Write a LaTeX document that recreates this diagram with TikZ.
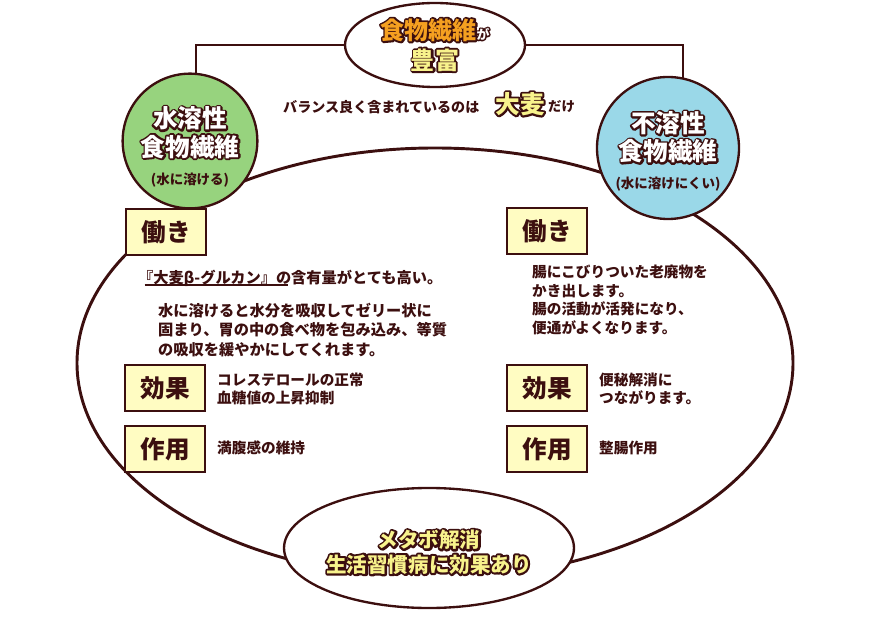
\documentclass[tikz,border=0pt]{standalone}
\usepackage{fontspec}
\setmainfont{Noto Sans CJK JP}
\usetikzlibrary{shapes.geometric}

\definecolor{ink}{HTML}{3C0F0F}
\definecolor{boxfill}{HTML}{FFFCC2}
\definecolor{solgreen}{HTML}{97D37E}
\definecolor{insolblue}{HTML}{9AD8E8}
\definecolor{orangeface}{HTML}{F5A020}
\definecolor{yellowface}{HTML}{F8F38C}

% text with a coloured rim: [rim width in bp]{rim}{face}{text}
\newcommand\edged[4][3.2]{%
  \rlap{\color{#2}\special{pdf:literal direct 1 Tr #1 w 1 j}#4\special{pdf:literal direct 0 Tr}}%
  {\color{#3}#4}}

\tikzset{
  oval/.style={ellipse,draw=ink,line width=2pt,fill=white,inner sep=0pt},
  fiber/.style={circle,draw=ink,line width=2pt,inner sep=0pt,minimum size=#1,
    align=center,font=\fontsize{21}{24}\selectfont\bfseries},
  tag/.style={draw=ink,line width=2.2pt,fill=boxfill,minimum width=2.4cm,
    minimum height=1.38cm,inner sep=0pt,text=ink,font=\fontsize{21}{21}\selectfont\bfseries},
  body/.style={anchor=west,inner sep=0pt,align=left,text=ink,
    font=\fontsize{13}{17}\selectfont\bfseries},
  link/.style={draw=ink,line width=1.6pt},
}

\begin{document}
\begin{tikzpicture}[x=0.03cm,y=-0.03cm]
\useasboundingbox (0,0) rectangle (870,627);

% big cycle
\node[oval,line width=2.5pt,fill=none,minimum width=21.48cm,minimum height=12.9cm] (ring) at (435,363) {};

% top
\node[oval,minimum width=5.4cm,minimum height=2.52cm,align=center,
  font=\fontsize{20.5}{25.5}\selectfont\bfseries] (rich) at (435,45)
  {\edged{ink}{orangeface}{食物繊維}\edged[2.4]{ink}{white}{\fontsize{11}{11}\selectfont が}\\
   \edged{ink}{yellowface}{豊富}};

\draw[link] (rich.west) -| (196,75);
\draw[link] (rich.east) -| (683,80);

\node[fiber=4.02cm,fill=solgreen] (sol) at (190,141)
  {\rule{0pt}{28pt}\edged{ink}{white}{水溶性}\\
   \edged{ink}{white}{食物繊維}\\
   {\color{ink}\fontsize{11.5}{11.5}\selectfont (水に溶ける)}};
\node[fiber=4.26cm,fill=insolblue] (insol) at (668,148)
  {\rule{0pt}{24pt}\edged{ink}{white}{不溶性}\\
   \edged{ink}{white}{食物繊維}\\
   {\color{ink}\fontsize{11.5}{11.5}\selectfont (水に溶けにくい)}};

\node[body,font=\fontsize{12}{12}\selectfont\bfseries] (balance) at (283,107) {バランス良く含まれているのは};
\node[inner sep=0pt,font=\fontsize{21}{21}\selectfont\bfseries] (barley) at (520,104)
  {\edged[3.4]{ink}{yellowface}{大麦}};
\node[body,font=\fontsize{11.5}{11.5}\selectfont\bfseries] (only) at (548,107) {だけ};

% left side
\node[tag] (workL) at (166,232) {働き};
\node[body] (betaL) at (138,278) {『大麦β-グルカン』の含有量がとても高い。};
\draw[ink,line width=1.5pt] ([xshift=0.2cm,yshift=-0.22cm]betaL.west) -- ++(143,0);
\node[body] (workLtext) at (158,330)
  {水に溶けると水分を吸収してゼリー状に\\固まり、胃の中の食べ物を包み込み、等質\\の吸収を緩やかにしてくれます。};
\node[tag] (effL) at (165,388) {効果};
\node[body,font=\fontsize{12.5}{15.3}\selectfont\bfseries] (effLtext) at (217,389)
  {コレステロールの正常\\血糖値の上昇抑制};
\node[tag] (useL) at (165,449) {作用};
\node[body,font=\fontsize{12.5}{15.3}\selectfont\bfseries] (useLtext) at (217,448) {満腹感の維持};

% right side
\node[tag] (workR) at (547,231) {働き};
\node[body,font=\fontsize{12.5}{15.7}\selectfont\bfseries] (workRtext) at (532,300)
  {腸にこびりついた老廃物を\\かき出します。\\腸の活動が活発になり、\\便通がよくなります。};
\node[tag] (effR) at (547,388) {効果};
\node[body,font=\fontsize{12.5}{15.3}\selectfont\bfseries] (effRtext) at (599,389)
  {便秘解消に\\つながります。};
\node[tag] (useR) at (547,449) {作用};
\node[body,font=\fontsize{12.5}{15.3}\selectfont\bfseries] (useRtext) at (599,448) {整腸作用};

% bottom
\node[oval,minimum width=7.5cm,minimum height=3.6cm,align=center,
  font=\fontsize{17.5}{21}\selectfont\bfseries] (meta) at (429,548)
  {\rule{0pt}{22pt}\edged[3.6]{ink}{yellowface}{メタボ解消}\\
   \edged[3.6]{ink}{yellowface}{生活習慣病に効果あり}};
\end{tikzpicture}
\end{document}
